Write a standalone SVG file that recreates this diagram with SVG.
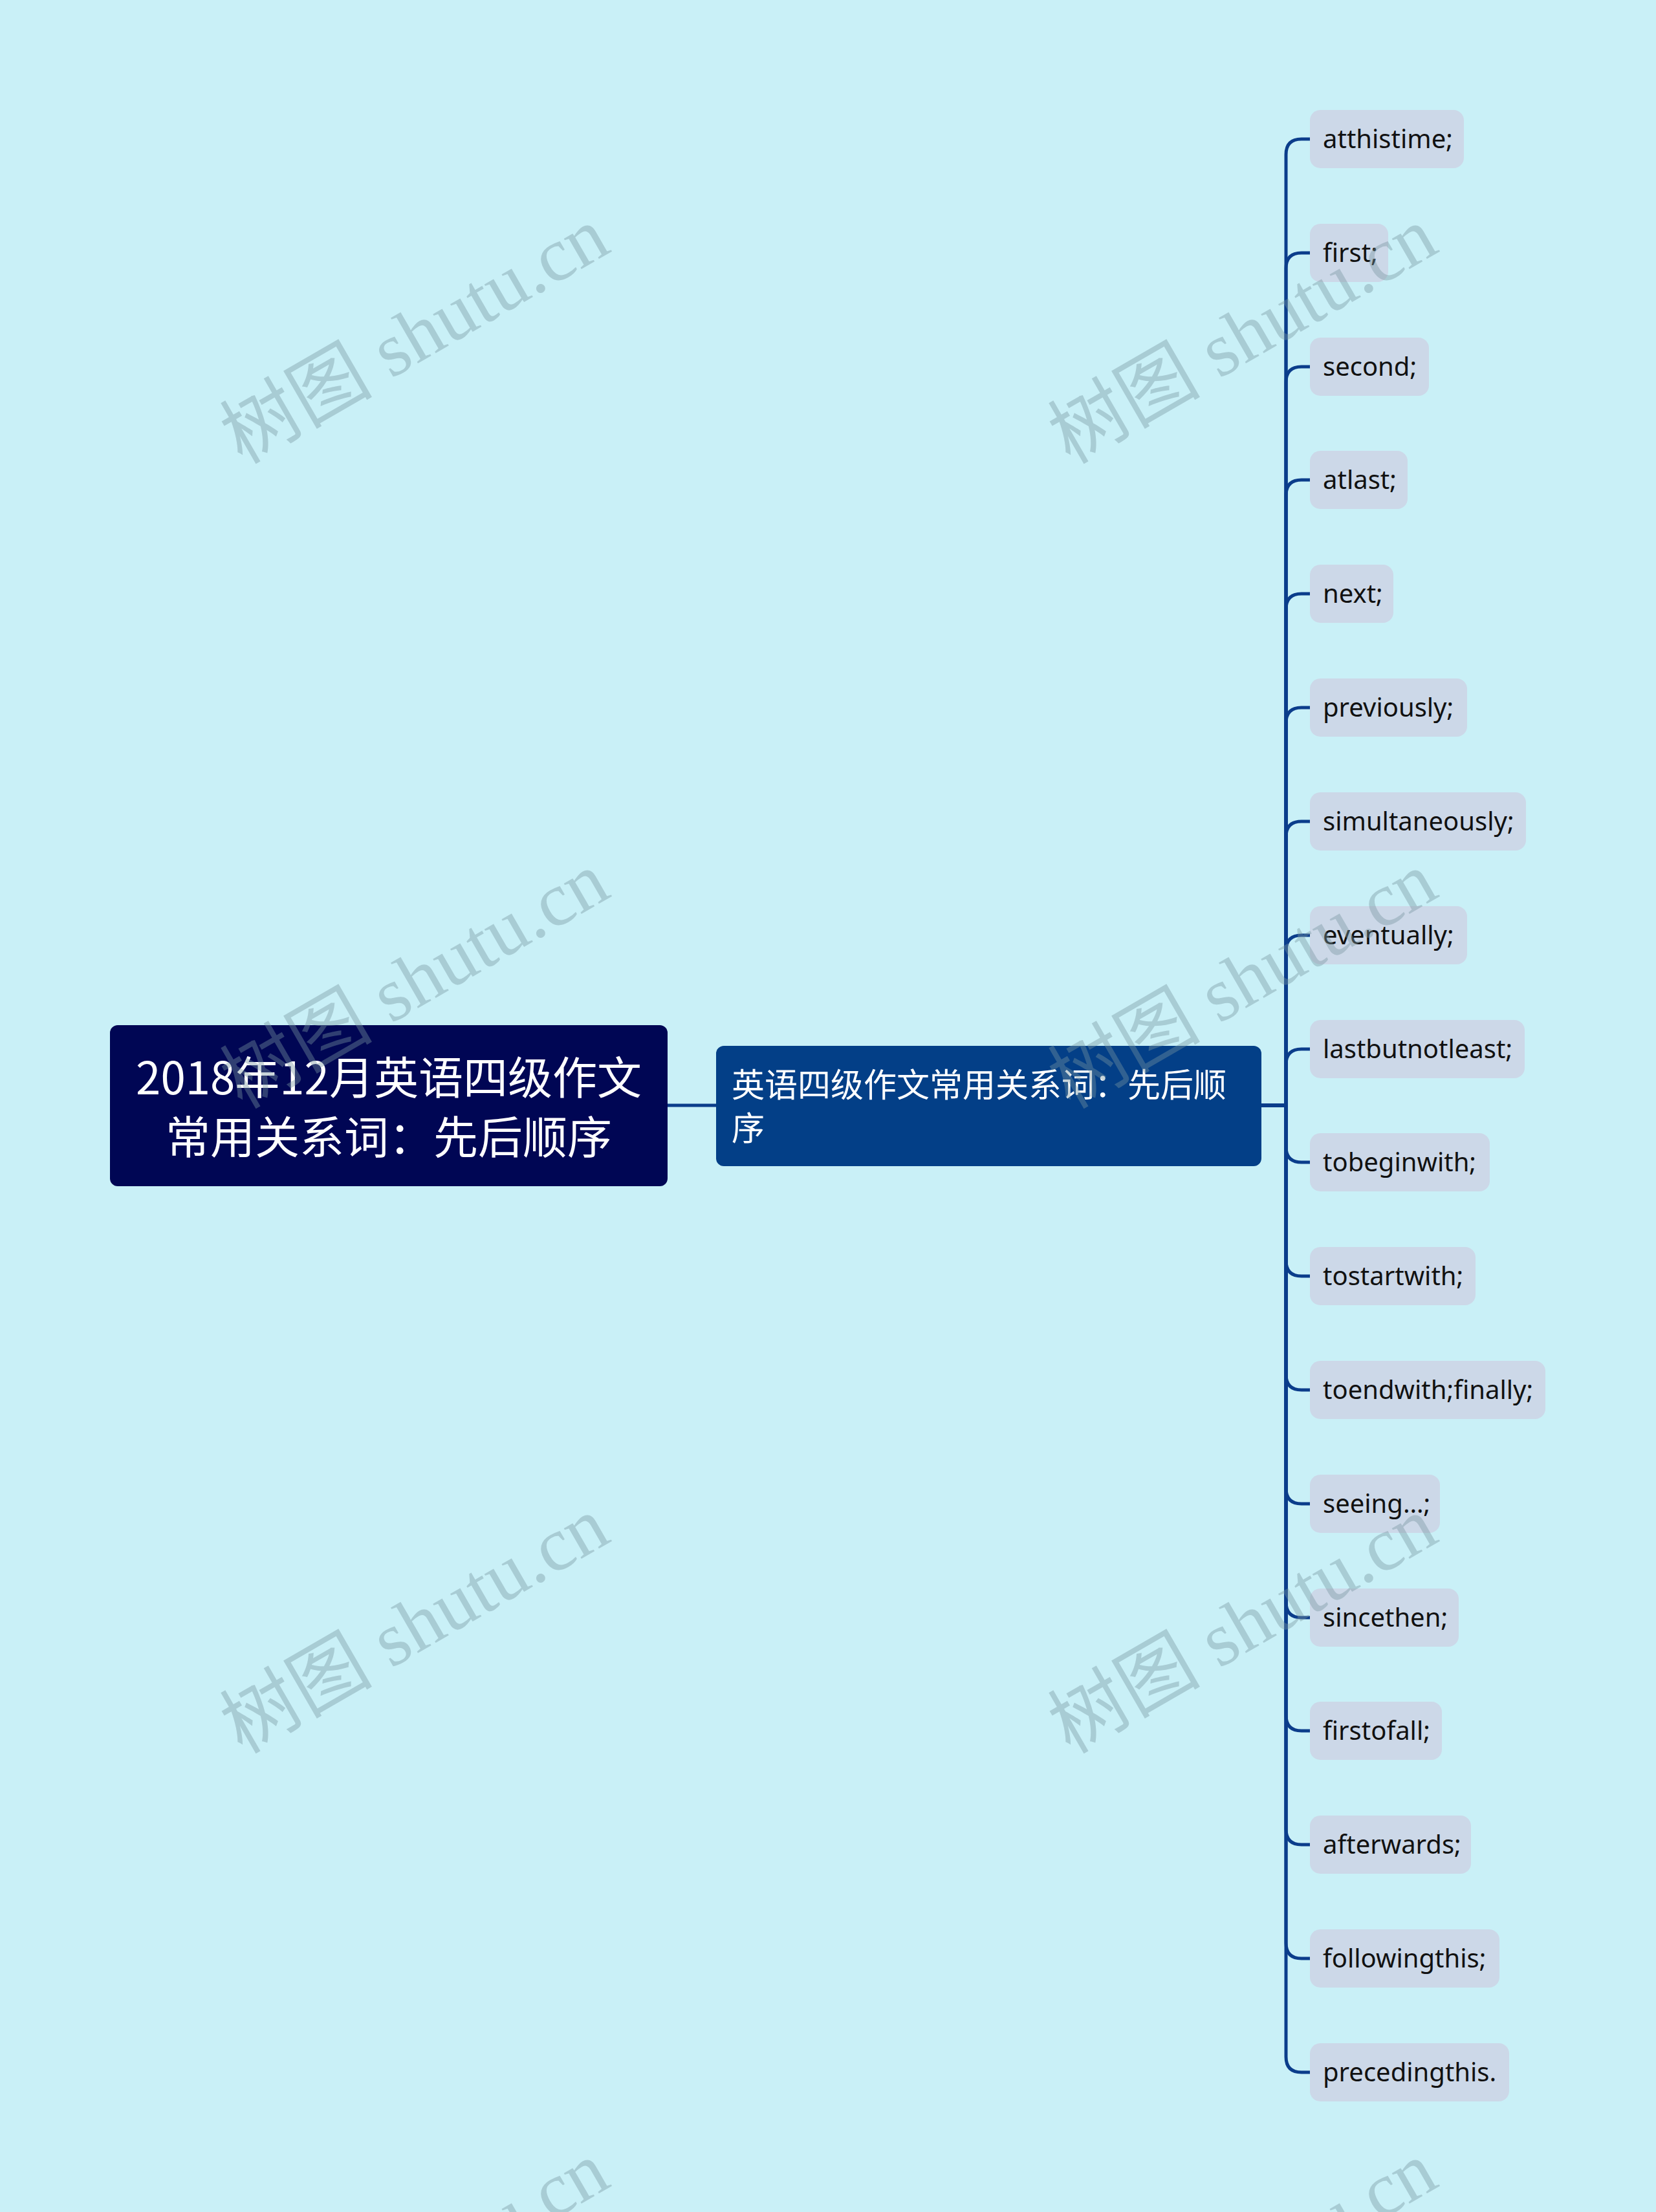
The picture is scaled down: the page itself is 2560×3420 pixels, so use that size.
<svg xmlns="http://www.w3.org/2000/svg" width="2560" height="3420" viewBox="0 0 2560 3420">
<style>
.bg{fill:#c9f0f7}
.root{fill:#000654}
.child{fill:#033f87}
.leaf{fill:#ccd8e8}
.rt{font-family:"Noto Sans CJK SC","Noto Sans",sans-serif;font-size:69px;fill:#ffffff;text-anchor:middle}
.ct{font-family:"Noto Sans CJK SC","Noto Sans",sans-serif;font-size:51px;fill:#ffffff}
.lt{font-family:"Noto Sans","Noto Sans CJK SC",sans-serif;font-size:40px;fill:#111111}
.conn path{fill:none;stroke:#0b3d8b;stroke-width:5;stroke-linecap:butt}
.wm{font-family:"Liberation Serif","Noto Sans CJK SC",serif;font-size:118px;fill:#78969f;fill-opacity:0.4;text-anchor:middle}
</style>
<rect class="bg" x="0" y="0" width="2560" height="3420"/>
<g id="connectors" class="conn">
<path d="M1032 1709 H1107"/>
<path d="M1950 1709 H1988 V239 Q1988 215 2012 215 H2025"/>
<path d="M1950 1709 H1988 V415 Q1988 391 2012 391 H2025"/>
<path d="M1950 1709 H1988 V591 Q1988 567 2012 567 H2025"/>
<path d="M1950 1709 H1988 V766 Q1988 742 2012 742 H2025"/>
<path d="M1950 1709 H1988 V942 Q1988 918 2012 918 H2025"/>
<path d="M1950 1709 H1988 V1118 Q1988 1094 2012 1094 H2025"/>
<path d="M1950 1709 H1988 V1294 Q1988 1270 2012 1270 H2025"/>
<path d="M1950 1709 H1988 V1470 Q1988 1446 2012 1446 H2025"/>
<path d="M1950 1709 H1988 V1646 Q1988 1622 2012 1622 H2025"/>
<path d="M1950 1709 H1988 V1773 Q1988 1797 2012 1797 H2025"/>
<path d="M1950 1709 H1988 V1949 Q1988 1973 2012 1973 H2025"/>
<path d="M1950 1709 H1988 V2125 Q1988 2149 2012 2149 H2025"/>
<path d="M1950 1709 H1988 V2301 Q1988 2325 2012 2325 H2025"/>
<path d="M1950 1709 H1988 V2477 Q1988 2501 2012 2501 H2025"/>
<path d="M1950 1709 H1988 V2652 Q1988 2676 2012 2676 H2025"/>
<path d="M1950 1709 H1988 V2828 Q1988 2852 2012 2852 H2025"/>
<path d="M1950 1709 H1988 V3004 Q1988 3028 2012 3028 H2025"/>
<path d="M1950 1709 H1988 V3180 Q1988 3204 2012 3204 H2025"/>
</g>
<g id="root">
<rect class="root" x="170" y="1585" width="862" height="249" rx="12"/>
<text class="rt" x="601" y="1692">2018年12月英语四级作文</text>
<text class="rt" x="601" y="1784">常用关系词：先后顺序</text>
</g>
<g id="child">
<rect class="child" x="1107" y="1617" width="843" height="186" rx="12"/>
<text class="ct" x="1131" y="1696">英语四级作文常用关系词：先后顺</text>
<text class="ct" x="1131" y="1763">序</text>
</g>
<g id="leaf1"><rect class="leaf" x="2025" y="170" width="238" height="90" rx="16"/><text class="lt" x="2045" y="229">atthistime;</text></g>
<g id="leaf2"><rect class="leaf" x="2025" y="346" width="121" height="90" rx="16"/><text class="lt" x="2045" y="405">first;</text></g>
<g id="leaf3"><rect class="leaf" x="2025" y="522" width="184" height="90" rx="16"/><text class="lt" x="2045" y="581">second;</text></g>
<g id="leaf4"><rect class="leaf" x="2025" y="697" width="151" height="90" rx="16"/><text class="lt" x="2045" y="756">atlast;</text></g>
<g id="leaf5"><rect class="leaf" x="2025" y="873" width="129" height="90" rx="16"/><text class="lt" x="2045" y="932">next;</text></g>
<g id="leaf6"><rect class="leaf" x="2025" y="1049" width="243" height="90" rx="16"/><text class="lt" x="2045" y="1108">previously;</text></g>
<g id="leaf7"><rect class="leaf" x="2025" y="1225" width="334" height="90" rx="16"/><text class="lt" x="2045" y="1284">simultaneously;</text></g>
<g id="leaf8"><rect class="leaf" x="2025" y="1401" width="243" height="90" rx="16"/><text class="lt" x="2045" y="1460">eventually;</text></g>
<g id="leaf9"><rect class="leaf" x="2025" y="1577" width="332" height="90" rx="16"/><text class="lt" x="2045" y="1636">lastbutnotleast;</text></g>
<g id="leaf10"><rect class="leaf" x="2025" y="1752" width="278" height="90" rx="16"/><text class="lt" x="2045" y="1811">tobeginwith;</text></g>
<g id="leaf11"><rect class="leaf" x="2025" y="1928" width="256" height="90" rx="16"/><text class="lt" x="2045" y="1987">tostartwith;</text></g>
<g id="leaf12"><rect class="leaf" x="2025" y="2104" width="364" height="90" rx="16"/><text class="lt" x="2045" y="2163">toendwith;finally;</text></g>
<g id="leaf13"><rect class="leaf" x="2025" y="2280" width="201" height="90" rx="16"/><text class="lt" x="2045" y="2339">seeing…;</text></g>
<g id="leaf14"><rect class="leaf" x="2025" y="2456" width="230" height="90" rx="16"/><text class="lt" x="2045" y="2515">sincethen;</text></g>
<g id="leaf15"><rect class="leaf" x="2025" y="2631" width="204" height="90" rx="16"/><text class="lt" x="2045" y="2690">firstofall;</text></g>
<g id="leaf16"><rect class="leaf" x="2025" y="2807" width="249" height="90" rx="16"/><text class="lt" x="2045" y="2866">afterwards;</text></g>
<g id="leaf17"><rect class="leaf" x="2025" y="2983" width="293" height="90" rx="16"/><text class="lt" x="2045" y="3042">followingthis;</text></g>
<g id="leaf18"><rect class="leaf" x="2025" y="3159" width="308" height="90" rx="16"/><text class="lt" x="2045" y="3218">precedingthis.</text></g>
<g id="watermarks">
<text class="wm" transform="translate(643,522) rotate(-30)" y="36">树图 shutu.cn</text>
<text class="wm" transform="translate(1923,522) rotate(-30)" y="36">树图 shutu.cn</text>
<text class="wm" transform="translate(643,1519) rotate(-30)" y="36">树图 shutu.cn</text>
<text class="wm" transform="translate(1923,1519) rotate(-30)" y="36">树图 shutu.cn</text>
<text class="wm" transform="translate(643,2516) rotate(-30)" y="36">树图 shutu.cn</text>
<text class="wm" transform="translate(1923,2516) rotate(-30)" y="36">树图 shutu.cn</text>
<text class="wm" transform="translate(643,3513) rotate(-30)" y="36">树图 shutu.cn</text>
<text class="wm" transform="translate(1923,3513) rotate(-30)" y="36">树图 shutu.cn</text>
</g>
</svg>
